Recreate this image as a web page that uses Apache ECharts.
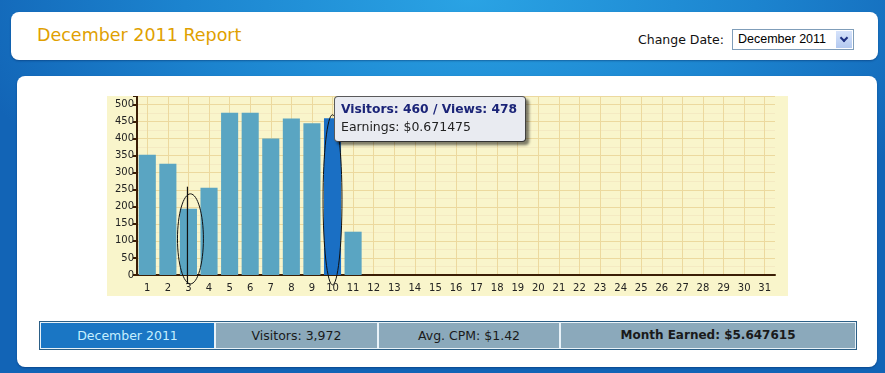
<!DOCTYPE html>
<html>
<head>
<meta charset="utf-8">
<script src="https://cdn.jsdelivr.net/npm/echarts@6/dist/echarts.min.js"></script>
<style>
  html, body { margin:0; padding:0; }
  body {
    width:885px; height:373px; overflow:hidden; position:relative;
    background: radial-gradient(ellipse 520px 260px at 470px 0px, #2aa3e4 0%, #1c84cf 55%, #1264b6 100%);
    font-family: "DejaVu Sans", sans-serif;
  }
  .panel { position:absolute; background:#fff; border-radius:8px; box-shadow: 0 1px 2px rgba(0,30,80,0.4); }
  #top { left:11px; top:12px; width:867px; height:48px; }
  #main { left:17px; top:76px; width:860px; height:291px; }
  #title { position:absolute; left:37px; top:25px; font-size:17.5px; color:#e0a000; white-space:nowrap; }
  #cdl { position:absolute; left:638px; top:32px; font-size:12.5px; color:#111; white-space:nowrap; }
  #sel { position:absolute; left:732px; top:29px; width:120px; height:19px; border:1px solid #7f9db9; background:#fff; }
  #selt { position:absolute; left:5px; top:2px; font-family:"Liberation Sans", sans-serif; font-size:12.5px; color:#000; white-space:nowrap; }
  #selb { position:absolute; right:1px; top:1px; width:16px; height:17px; background:linear-gradient(#d6e3fb,#b3c9f0); border:0; }
  #selb:after { content:""; position:absolute; left:5px; top:4px; width:4px; height:4px; border-right:2px solid #1c2f80; border-bottom:2px solid #1c2f80; transform:rotate(45deg); }
  #chart { position:absolute; left:107px; top:96px; width:681px; height:200px; background:#f9f5cb; }
  #bar { position:absolute; left:39px; top:321px; width:816px; height:27px; border:1px solid #2c5f86; background:#e8f2f8; }
  .cell { position:absolute; top:1px; height:25px; line-height:25px; text-align:center; font-size:12.5px; color:#1a1a1a; background:#8ba9bb; white-space:nowrap; }
</style>
</head>
<body>
<div class="panel" id="top"></div>
<div id="title">December 2011 Report</div>
<div id="cdl">Change Date:</div>
<div id="sel"><div id="selt">December 2011</div><div id="selb"></div></div>
<div class="panel" id="main"></div>
<div id="chart"></div>
<div id="bar">
  <div class="cell" style="left:1px;width:173px;background:#1a76c4;color:#c6f0ff;">December 2011</div>
  <div class="cell" style="left:176px;width:161px;">Visitors: 3,972</div>
  <div class="cell" style="left:339px;width:180px;">Avg. CPM: $1.42</div>
  <div class="cell" style="left:521px;width:294px;font-weight:bold;font-size:12px;">Month Earned: $5.647615</div>
</div>
<script>
// ---- data ----
const days = ['1','2','3','4','5','6','7','8','9','10','11','12','13','14','15','16','17','18','19','20','21','22','23','24','25','26','27','28','29','30','31'];
const visitors = [353,326,194,256,476,476,400,459,445,460,127,0,0,0,0,0,0,0,0,0,0,0,0,0,0,0,0,0,0,0,0];
const highlightDay = '10';
const tipVisitors = 460;
const tipViews = 478;
const tipEarnings = '0.671475';
// hand-drawn annotation marks: [day, low value, high value]
const ellipseMarks = [['3', -26, 238], ['10', -29, 470]];
const strokeMarks = [['3', -26, 259]];

const chart = echarts.init(document.getElementById('chart'), null, {renderer:'canvas'});
const gridCol = '#ecd99e';
const axisCol = '#3b1e05';
const lblFont = {fontFamily:'DejaVu Sans', fontSize:10, color:'#222'};
const hiIdx = days.indexOf(highlightDay);

const ellipseRx = [0.63, 0.46];

const option = {
  animation:false,
  backgroundColor:'transparent',
  grid:{left:30, right:13, top:0, bottom:21, containLabel:false},
  xAxis:{
    type:'category', data:days,
    axisLine:{lineStyle:{color:axisCol, width:2}},
    axisTick:{alignWithLabel:true, length:3, lineStyle:{color:axisCol, width:2}},
    axisLabel:Object.assign({margin:8}, lblFont),
    splitLine:{show:true, alignWithLabel:true, lineStyle:{color:gridCol, width:1}}
  },
  yAxis:{
    type:'value', min:0, max:525, interval:50,
    axisLine:{show:true, lineStyle:{color:axisCol, width:2}},
    axisTick:{show:true, length:4, lineStyle:{color:axisCol, width:2}},
    axisLabel:Object.assign({margin:3, formatter:v => (v % 50 === 0 ? String(v) : '')}, lblFont),
    splitLine:{show:true, lineStyle:{color:gridCol, width:1}},
    minorSplitLine:{show:true, lineStyle:{color:'#f4eac2', width:1}},
    minorTick:{show:false, splitNumber:2}
  },
  series:[
    {
      type:'bar', barCategoryGap:'17%',
      data: visitors.map((v,i) => i === hiIdx ? {value:v, itemStyle:{color:'#1a6fc4'}} : v),
      itemStyle:{color:'#5aa5c2'},
      z:2
    },
    {
      type:'custom', z:5, silent:true, clip:false,
      data: ellipseMarks.map(m => [days.indexOf(m[0]), m[1], m[2]]),
      renderItem:(params, api) => {
        const c = api.value(0);
        const lo = api.coord([c, api.value(1)]);
        const hi = api.coord([c, api.value(2)]);
        const bw = api.size([1,0])[0];
        const rx = bw * ellipseRx[params.dataIndex];
        const dx = params.dataIndex === 0 ? 2 : 0;
        return {type:'ellipse', shape:{cx:lo[0]+dx, cy:(lo[1]+hi[1])/2, rx:rx, ry:(lo[1]-hi[1])/2},
                style:{fill:'none', stroke:'#111', lineWidth:1}};
      }
    },
    {
      type:'custom', z:5, silent:true, clip:false,
      data: strokeMarks.map(m => [days.indexOf(m[0]), m[1], m[2]]),
      renderItem:(params, api) => {
        const c = api.value(0);
        const lo = api.coord([c, api.value(1)]);
        const hi = api.coord([c, api.value(2)]);
        return {type:'line', shape:{x1:lo[0]-1, y1:lo[1], x2:hi[0]-1, y2:hi[1]},
                style:{stroke:'#111', lineWidth:1.2}};
      }
    }
  ]
};
chart.setOption(option);

const p = chart.convertToPixel({gridIndex:0}, [highlightDay, 0]);
chart.setOption({
  graphic:[{
    type:'text', left:Math.round(p[0]) + 1, top:0, z:100,
    style:{
      text:'{a|Visitors: ' + tipVisitors + ' / Views: ' + tipViews + '}\n{b|Earnings: $' + tipEarnings + '}',
      rich:{
        a:{fontFamily:'DejaVu Sans', fontWeight:'bold', fontSize:12.3, fill:'#1b2478', lineHeight:18},
        b:{fontFamily:'DejaVu Sans', fontSize:12.5, fill:'#222', lineHeight:18}
      },
      backgroundColor:'#e9ebf1', borderColor:'#5a5a5a', borderWidth:1, borderRadius:3,
      padding:[4,8,4,6],
      shadowBlur:3, shadowOffsetX:3, shadowOffsetY:3, shadowColor:'rgba(0,0,0,0.45)'
    }
  }]
});
</script>
</body>
</html>
